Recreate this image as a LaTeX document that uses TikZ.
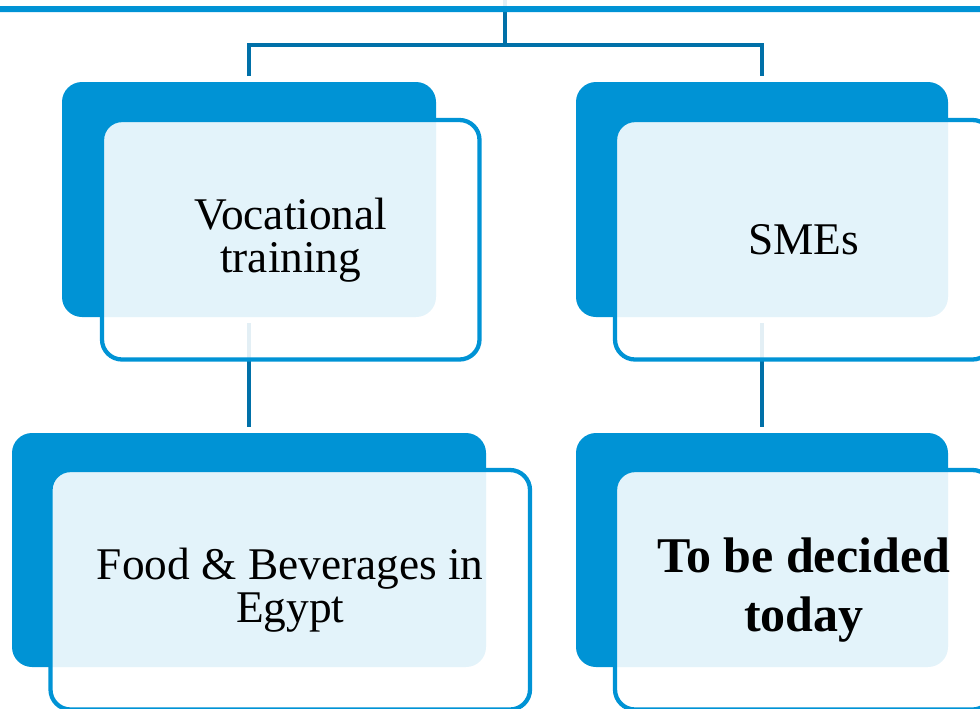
\documentclass[tikz,border=0pt]{standalone}
\usepackage{fontspec}
\setmainfont{Liberation Serif}
\definecolor{boxblue}{HTML}{0093D5}
\definecolor{linkblue}{HTML}{0070A8}
\pgfdeclarelayer{bg}
\pgfsetlayers{bg,main}
\tikzset{
  darkbox/.style={rectangle, rounded corners=15pt, fill=boxblue, draw=none, inner sep=0pt, outer sep=0pt},
  frontbox/.style={rectangle, rounded corners=15pt, draw=boxblue, line width=3.2pt, fill=white, fill opacity=0.89, text opacity=1, inner sep=0pt, outer sep=0pt, align=center, text=black, font=\fontsize{34pt}{32.25pt}\selectfont},
  boldtext/.style={font=\fontsize{37.5pt}{44.25pt}\selectfont\bfseries},
  link/.style={draw=linkblue, line width=3pt, shorten >=4.5pt, shorten <=4.5pt},
}
\begin{document}
\begin{tikzpicture}[x=0.75pt, y=-0.75pt]
\useasboundingbox (0,0) rectangle (980,708);
\clip (0,0) rectangle (980,708);
% parent (mostly above the visible area)
\node[darkbox, minimum width=374*0.75pt, minimum height=235*0.75pt] (pdark) at (505,-155) {};
\node[frontbox, line width=4.5pt, minimum width=1200*0.75pt, minimum height=239.5*0.75pt] (pfront) at (505,-110.75) {};
% top row
\node[darkbox, minimum width=374*0.75pt, minimum height=235*0.75pt] (tldark) at (249,199.5) {};
\node[frontbox, minimum width=377.5*0.75pt, minimum height=239.5*0.75pt] (tlfront) at (290.75,239.75) {Vocational\\training};
\node[darkbox, minimum width=372*0.75pt, minimum height=235*0.75pt] (trdark) at (762,199.5) {};
\node[frontbox, minimum width=377.5*0.75pt, minimum height=239.5*0.75pt] (trfront) at (803.75,239.75) {SMEs};
% bottom row
\node[darkbox, minimum width=474*0.75pt, minimum height=234*0.75pt] (bldark) at (249,550) {};
\node[frontbox, minimum width=479.5*0.75pt, minimum height=239.5*0.75pt] (blfront) at (290.25,589.75) {Food \& Beverages in\\Egypt};
\node[darkbox, minimum width=372*0.75pt, minimum height=234*0.75pt] (brdark) at (762,550) {};
\node[frontbox, boldtext, minimum width=377.5*0.75pt, minimum height=239.5*0.75pt] (brfront) at (803.75,589.75) {To be decided\\today};
% connectors behind the boxes
\begin{pgfonlayer}{bg}
\coordinate (hub) at (505,44.5);
\draw[link, shorten >=0pt] (pdark.south) -- (hub);
\draw[link] (tldark.north) |- (hub) -| (trdark.north);
\draw[link] (tldark.south) -- (bldark.north);
\draw[link] (trdark.south) -- (brdark.north);
\end{pgfonlayer}
\end{tikzpicture}
\end{document}
